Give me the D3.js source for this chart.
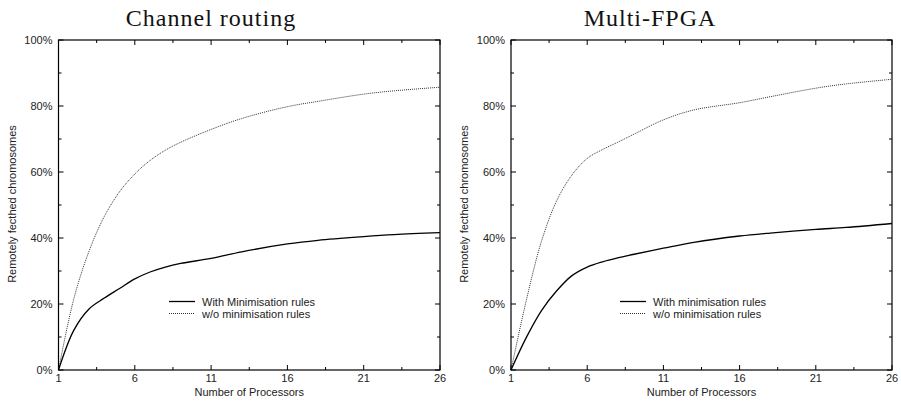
<!DOCTYPE html>
<html>
<head>
<meta charset="utf-8">
<script src="https://cdn.jsdelivr.net/npm/d3@7"></script>
<style>
  body { margin: 0; background: #fff; }
  svg { display: block; }
  .tick-label { font-family: "Liberation Sans", Arial, sans-serif; font-size: 11px; fill: #222; }
  .title { font-family: "Liberation Serif", "DejaVu Serif", serif; font-size: 24px; fill: #111; letter-spacing: 1px; }
</style>
</head>
<body>
<div id="chart"></div>
<script>
var processors = [1, 2, 3, 4, 5, 6, 7, 8, 9, 11, 13, 16, 18, 21, 23, 26];

// Channel routing
var channelWith    = [0, 12, 18.5, 21.8, 24.7, 27.6, 29.7, 31.2, 32.3, 33.8, 35.8, 38.2, 39.3, 40.4, 41, 41.6];
var channelWithout = [0, 21.5, 36, 46.5, 54, 59.4, 63.5, 66.6, 69, 72.9, 76.2, 79.8, 81.4, 83.6, 84.6, 85.7];

// Multi-FPGA
var fpgaWith    = [0, 9.8, 18, 24, 28.6, 31.2, 32.8, 34, 35, 36.9, 38.7, 40.6, 41.5, 42.6, 43.2, 44.4];
var fpgaWithout = [0, 21, 39, 51.3, 59.1, 64.1, 66.8, 69, 71.3, 75.8, 78.8, 81, 82.8, 85.4, 86.7, 88.1];

var xTicks = [1, 6, 11, 16, 21, 26];
var yTicks = [0, 20, 40, 60, 80, 100];

var W = 901, H = 405;

var svg = d3.select("#chart").append("svg")
  .attr("width", W)
  .attr("height", H);

function drawPanel(opt) {
  var x = d3.scaleLinear().domain([1, 26]).range([opt.left, opt.right]);
  var y = d3.scaleLinear().domain([0, 100]).range([370, 40]);
  var g = svg.append("g");

  // minor ticks
  var xMinor = d3.range(1, 26.01, 2.5);
  var yMinor = d3.range(0, 100.01, 10);

  g.selectAll("line.xt").data(xMinor).enter().append("line")
    .attr("x1", function(d) { return x(d); })
    .attr("x2", function(d) { return x(d); })
    .attr("y1", y(0)).attr("y2", function(d, i) { return y(0) - (i % 2 ? 3 : 5); })
    .attr("stroke", "#000");
  g.selectAll("line.xtt").data(xMinor).enter().append("line")
    .attr("x1", function(d) { return x(d); })
    .attr("x2", function(d) { return x(d); })
    .attr("y1", y(100)).attr("y2", function(d, i) { return y(100) + (i % 2 ? 3 : 5); })
    .attr("stroke", "#000");
  g.selectAll("line.yt").data(yMinor).enter().append("line")
    .attr("y1", function(d) { return y(d); })
    .attr("y2", function(d) { return y(d); })
    .attr("x1", x(1)).attr("x2", function(d, i) { return x(1) + (i % 2 ? 3 : 5); })
    .attr("stroke", "#000");
  g.selectAll("line.ytr").data(yMinor).enter().append("line")
    .attr("y1", function(d) { return y(d); })
    .attr("y2", function(d) { return y(d); })
    .attr("x1", x(26)).attr("x2", function(d, i) { return x(26) - (i % 2 ? 3 : 5); })
    .attr("stroke", "#000");

  // frame
  g.append("rect")
    .attr("x", x(1)).attr("y", y(100))
    .attr("width", x(26) - x(1)).attr("height", y(0) - y(100))
    .attr("fill", "none").attr("stroke", "#000").attr("stroke-width", 1.2);

  // tick labels
  g.selectAll("text.xl").data(xTicks).enter().append("text")
    .attr("class", "tick-label")
    .attr("x", function(d) { return x(d); })
    .attr("y", 382)
    .attr("text-anchor", "middle")
    .text(function(d) { return d; });
  g.selectAll("text.yl").data(yTicks).enter().append("text")
    .attr("class", "tick-label")
    .attr("x", x(1) - 6)
    .attr("y", function(d) { return y(d) + 4; })
    .attr("text-anchor", "end")
    .text(function(d) { return d + "%"; });

  g.append("text").attr("class", "tick-label")
    .attr("x", (x(1) + x(26)) / 2).attr("y", 396)
    .attr("text-anchor", "middle")
    .text("Number of Processors");
  g.append("text").attr("class", "tick-label")
    .attr("transform", "translate(" + (opt.left - 43) + ",204) rotate(-90)")
    .attr("text-anchor", "middle")
    .text("Remotely fecthed chromosomes");

  g.append("text").attr("class", "title")
    .attr("x", opt.titleX).attr("y", 26)
    .attr("text-anchor", "middle")
    .text(opt.title);

  var line = d3.line()
    .x(function(d, i) { return x(processors[i]); })
    .y(function(d) { return y(d); })
    .curve(d3.curveCatmullRom.alpha(0.5));

  g.append("path").datum(opt.without)
    .attr("d", line).attr("fill", "none")
    .attr("stroke", "#333").attr("stroke-width", 1)
    .attr("stroke-dasharray", "1,1");
  g.append("path").datum(opt.withR)
    .attr("d", line).attr("fill", "none")
    .attr("stroke", "#000").attr("stroke-width", 1.3);

  // legend
  var lg = g.append("g");
  lg.append("line").attr("x1", opt.legX).attr("x2", opt.legX + 26)
    .attr("y1", 301.5).attr("y2", 301.5).attr("stroke", "#000").attr("stroke-width", 1.3);
  lg.append("text").attr("class", "tick-label")
    .attr("x", opt.legX + 33).attr("y", 305.5).text(opt.legend[0]);
  lg.append("line").attr("x1", opt.legX).attr("x2", opt.legX + 26)
    .attr("y1", 313.5).attr("y2", 313.5).attr("stroke", "#333")
    .attr("stroke-dasharray", "1,1");
  lg.append("text").attr("class", "tick-label")
    .attr("x", opt.legX + 33).attr("y", 317.5).text(opt.legend[1]);
}

drawPanel({
  left: 58.5, right: 440, title: "Channel routing", titleX: 211,
  withR: channelWith, without: channelWithout, legX: 169,
  legend: ["With Minimisation rules", "w/o minimisation rules"]
});
drawPanel({
  left: 511, right: 892, title: "Multi-FPGA", titleX: 650,
  withR: fpgaWith, without: fpgaWithout, legX: 620,
  legend: ["With minimisation rules", "w/o minimisation rules"]
});
</script>
</body>
</html>
